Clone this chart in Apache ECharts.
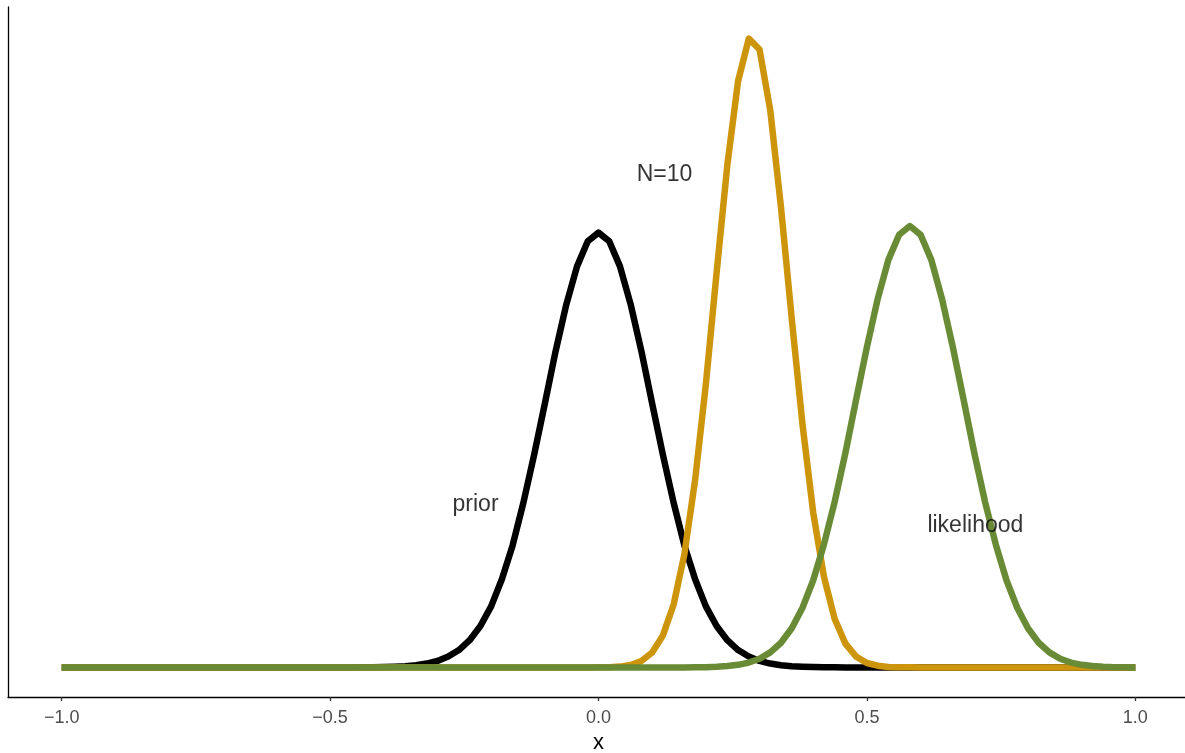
<!DOCTYPE html>
<html>
<head>
<meta charset="utf-8">
<title>prior, likelihood and posterior</title>
<script src="https://cdn.jsdelivr.net/npm/echarts@6/dist/echarts.min.js"></script>
<style>
  html, body { margin: 0; padding: 0; background: #ffffff; }
  #chart { width: 1185px; height: 753px; }
</style>
</head>
<body>
<div id="chart"></div>
<script>
// Evaluation grid on [-1, 1], step 0.02
const xGrid = [
  -1.00,-0.98,-0.96,-0.94,-0.92,-0.90,-0.88,-0.86,-0.84,-0.82,
  -0.80,-0.78,-0.76,-0.74,-0.72,-0.70,-0.68,-0.66,-0.64,-0.62,
  -0.60,-0.58,-0.56,-0.54,-0.52,-0.50,-0.48,-0.46,-0.44,-0.42,
  -0.40,-0.38,-0.36,-0.34,-0.32,-0.30,-0.28,-0.26,-0.24,-0.22,
  -0.20,-0.18,-0.16,-0.14,-0.12,-0.10,-0.08,-0.06,-0.04,-0.02,
   0.00,
   0.02, 0.04, 0.06, 0.08, 0.10, 0.12, 0.14, 0.16, 0.18, 0.20,
   0.22, 0.24, 0.26, 0.28, 0.30, 0.32, 0.34, 0.36, 0.38, 0.40,
   0.42, 0.44, 0.46, 0.48, 0.50, 0.52, 0.54, 0.56, 0.58, 0.60,
   0.62, 0.64, 0.66, 0.68, 0.70, 0.72, 0.74, 0.76, 0.78, 0.80,
   0.82, 0.84, 0.86, 0.88, 0.90, 0.92, 0.94, 0.96, 0.98, 1.00
];

// Prior density
const prior = [
  0,0,0,0,0,0,0,0,0,0,
  0,0,0,0,0,0,0,0,0,0,
  0,0,0,0,0,0,0,0,0.001,0.002,
  0.004,0.007,0.012,0.021,0.036,0.06,0.10,0.16,0.25,0.38,
  0.56,0.81,1.12,1.51,1.95,2.42,2.90,3.33,3.68,3.91,
  3.99,
  3.91,3.68,3.33,2.90,2.42,1.95,1.51,1.12,0.81,0.56,
  0.38,0.25,0.16,0.10,0.06,0.036,0.021,0.012,0.007,0.004,
  0.002,0.001,0,0,0,0,0,0,0,0,
  0,0,0,0,0,0,0,0,0,0,
  0,0,0,0,0,0,0,0,0,0
];

// Posterior density after N=10 observations
const posterior = [
  0,0,0,0,0,0,0,0,0,0,
  0,0,0,0,0,0,0,0,0,0,
  0,0,0,0,0,0,0,0,0,0,
  0,0,0,0,0,0,0,0,0,0,
  0,0,0,0,0,0,0,0,0,0,
  0.001,
  0.003,0.008,0.023,0.059,0.137,0.294,0.578,1.04,1.72,2.60,
  3.62,4.61,5.38,5.77,5.67,5.11,4.22,3.20,2.23,1.42,
  0.831,0.445,0.219,0.099,0.041,0.016,0.005,0.002,0.001,0,
  0,0,0,0,0,0,0,0,0,0,
  0,0,0,0,0,0,0,0,0,0
];

// Likelihood
const likelihood = [
  0,0,0,0,0,0,0,0,0,0,
  0,0,0,0,0,0,0,0,0,0,
  0,0,0,0,0,0,0,0,0,0,
  0,0,0,0,0,0,0,0,0,0,
  0,0,0,0,0,0,0,0,0,0,
  0,0,0,0,0,0,0,0.0003,0.0006,0.0014,
  0.003,0.006,0.0125,0.024,0.045,0.080,0.138,0.227,0.360,0.548,
  0.80,1.13,1.52,1.97,2.46,2.94,3.38,3.74,3.97,4.05,
  3.97,3.74,3.38,2.94,2.46,1.97,1.52,1.13,0.80,0.548,
  0.360,0.227,0.138,0.080,0.045,0.024,0.0125,0.006,0.003,0.0014,
  0.0006
];

const xTicks = [-1, -0.5, 0, 0.5, 1];

const labelX = [-0.229, 0.123, 0.702];
const labelY = [1.49, 4.52, 1.30];
const labelText = ['prior', 'N=10', 'likelihood'];

const colPrior = '#000000';
const colPosterior = '#CD950C';
const colLikelihood = '#6A8B35';

function pairs(ys) {
  return xGrid.map((x, i) => [x, ys[i]]);
}

function curve(name, ys, color) {
  return {
    name: name,
    type: 'line',
    data: pairs(ys),
    showSymbol: false,
    smooth: false,
    silent: true,
    lineStyle: { color: color, width: 6.5, join: 'round', cap: 'butt' },
    z: 2
  };
}

const chart = echarts.init(document.getElementById('chart'), null, { renderer: 'canvas' });

chart.setOption({
  animation: false,
  backgroundColor: '#ffffff',
  textStyle: { fontFamily: 'Liberation Sans, Arial, sans-serif' },
  grid: {
    left: 8, top: 7, width: 1181, height: 690,
    containLabel: false,
    outerBoundsMode: 'none'
  },
  xAxis: {
    type: 'value',
    min: -1.1,
    max: 1.1,
    name: 'x',
    nameLocation: 'middle',
    nameGap: 34,
    nameTextStyle: { color: '#000000', fontSize: 22, fontFamily: 'Liberation Sans' },
    axisLine: { show: true, onZero: false, lineStyle: { color: '#000000', width: 1.3 } },
    axisTick: { show: true, length: 4, customValues: xTicks, lineStyle: { color: '#333333', width: 1.3 } },
    axisLabel: {
      show: true,
      customValues: xTicks,
      margin: 12,
      color: '#4D4D4D',
      fontSize: 18,
      fontFamily: 'Liberation Sans',
      formatter: v => (v < 0 ? '\u2212' : '') + Math.abs(v).toFixed(1)
    },
    splitLine: { show: false }
  },
  yAxis: {
    type: 'value',
    min: -0.271,
    max: 6.06,
    axisLine: { show: true, onZero: false, lineStyle: { color: '#000000', width: 1.3 } },
    axisTick: { show: false },
    axisLabel: { show: false },
    splitLine: { show: false }
  },
  series: [
    curve('prior', prior, colPrior),
    curve('posterior', posterior, colPosterior),
    curve('likelihood', likelihood, colLikelihood),
    {
      name: 'annotations',
      type: 'scatter',
      silent: true,
      symbol: 'circle',
      symbolSize: 1,
      itemStyle: { color: 'rgba(0,0,0,0)' },
      data: labelText.map((t, i) => ({ name: t, value: [labelX[i], labelY[i]] })),
      label: {
        show: true,
        position: [0.5, 0.5],
        align: 'center',
        verticalAlign: 'middle',
        formatter: '{b}',
        color: '#000000',
        textBorderWidth: 0,
        fontSize: 23,
        fontFamily: 'Liberation Sans'
      },
      z: 5
    }
  ]
});
</script>
</body>
</html>
